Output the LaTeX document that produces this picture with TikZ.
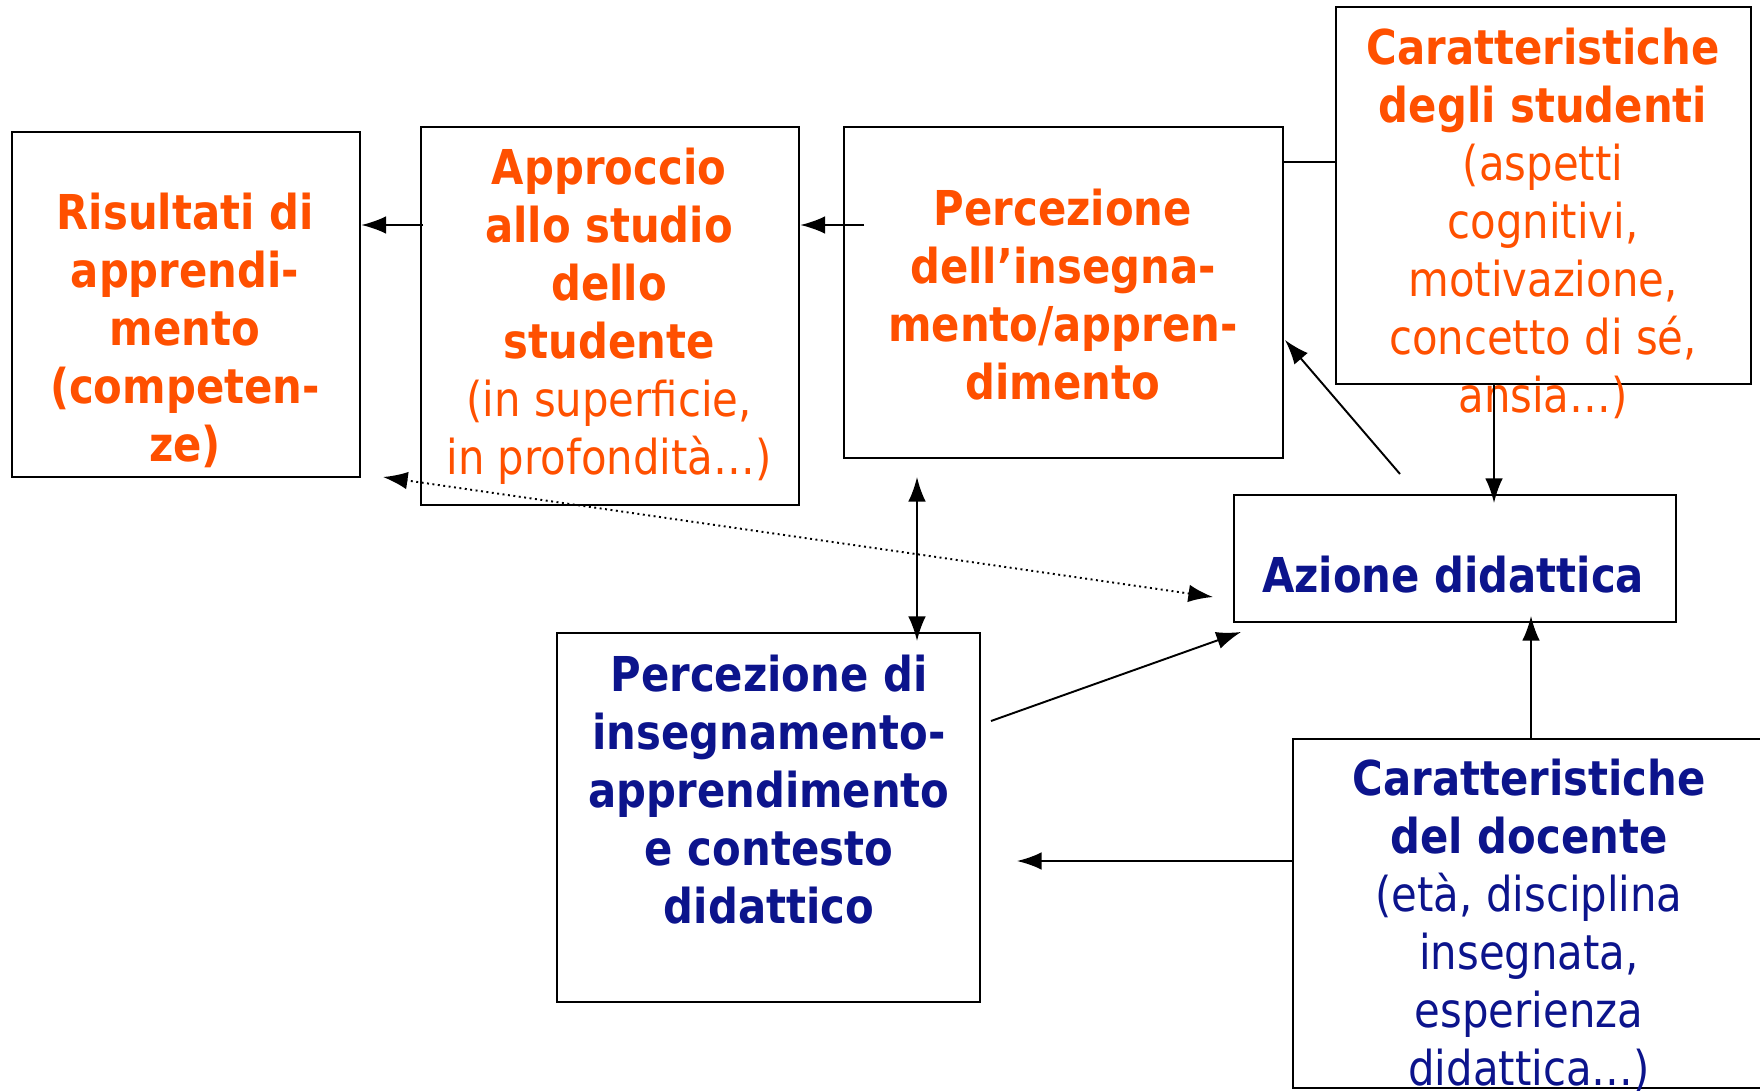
\documentclass[tikz,border=0pt]{standalone}
\usepackage{fontspec}
\setmainfont{DejaVu Sans}[FakeStretch=0.87]
\usetikzlibrary{arrows.meta}
\definecolor{arancio}{RGB}{255,80,0}
\definecolor{blu}{RGB}{12,20,140}

\begin{document}
\begin{tikzpicture}[x=0.01cm, y=-0.01cm,
  box/.style={draw, rectangle, line width=0.75pt, inner sep=0pt},
  testo/.style={align=center, inner sep=0pt, font=\fontsize{13.66pt}{16.5pt}\selectfont},
  freccia/.style={line width=0.55pt},
  >={Latex[length=7pt,width=5pt]}]
\useasboundingbox (0,0) rectangle (1760,1091);

\node[box, minimum width=3.48cm, minimum height=3.45cm] (ris) at (186,304.5) {};
\node[box, minimum width=3.78cm, minimum height=3.78cm] (appr) at (610,316) {};
\node[box, minimum width=4.39cm, minimum height=3.31cm] (perc) at (1063.5,292.5) {};
\node[box, minimum width=4.15cm, minimum height=3.77cm] (carst) at (1543.5,195.5) {};
\node[box, minimum width=4.42cm, minimum height=1.27cm] (azione) at (1455,558.5) {};
\node[box, minimum width=4.23cm, minimum height=3.69cm] (percdi) at (768.5,817.5) {};
\node[box, minimum width=4.69cm, minimum height=3.49cm] (cardoc) at (1527.5,913.5) {};

\node[testo, text=arancio] (tris) at (185,330) {\textbf{Risultati di}\\\textbf{apprendi-}\\\textbf{mento}\\\textbf{(competen-}\\\textbf{ze)}};
\node[testo, text=arancio] (tappr) at (609,316) {\textbf{Approccio}\\\textbf{allo studio}\\\textbf{dello}\\\textbf{studente}\\(in superficie,\\in profondità…)};
\node[testo, text=arancio] (tperc) at (1063,295) {\textbf{Percezione}\\\textbf{dell’insegna-}\\\textbf{mento/appren-}\\\textbf{dimento}};
\node[testo, text=arancio] (tcarst) at (1543,223) {\textbf{Caratteristiche}\\\textbf{degli studenti}\\(aspetti\\cognitivi,\\motivazione,\\concetto di sé,\\ansia…)};
\node[testo, text=blu] (tazione) at (1453,575) {\textbf{Azione didattica}};
\node[testo, text=blu] (tpercdi) at (769,790) {\textbf{Percezione di}\\\textbf{insegnamento-}\\\textbf{apprendimento}\\\textbf{e contesto}\\\textbf{didattico}};
\node[testo, text=blu] (tcardoc) at (1529,925) {\textbf{Caratteristiche}\\\textbf{del docente}\\(età, disciplina\\insegnata,\\esperienza\\didattica…)};

\coordinate (c1) at (423,225);
\coordinate (c2) at (864,225);
\coordinate (c3) at (1283,162);
\coordinate (c4) at (1494,503);
\coordinate (c5) at (1400,474);
\coordinate (c6) at (1285,340);
\coordinate (c7) at (917,477);
\coordinate (c8) at (917,641);
\coordinate (c9) at (1213,597);
\coordinate (c10) at (383,477);
\coordinate (c11) at (991,721);
\coordinate (c12) at (1241,632);
\coordinate (c13) at (1531,616);
\coordinate (c14) at (1017,861);

\draw[freccia, ->] (c1) -- (ris.east |- c1);
\draw[freccia, ->] (c2) -- (appr.east |- c2);
\draw[freccia] (c3) -- (carst.west |- c3);
\draw[freccia, ->] (carst.south -| c4) -- (c4);
\draw[freccia, ->] (c5) -- (c6);
\draw[freccia, <->] (c7) -- (c8);
\draw[freccia, <->, densely dotted] (c9) -- (c10);
\draw[freccia, ->] (c11) -- (c12);
\draw[freccia, ->] (cardoc.north -| c13) -- (c13);
\draw[freccia, ->] (cardoc.west |- c14) -- (c14);

\end{tikzpicture}
\end{document}
